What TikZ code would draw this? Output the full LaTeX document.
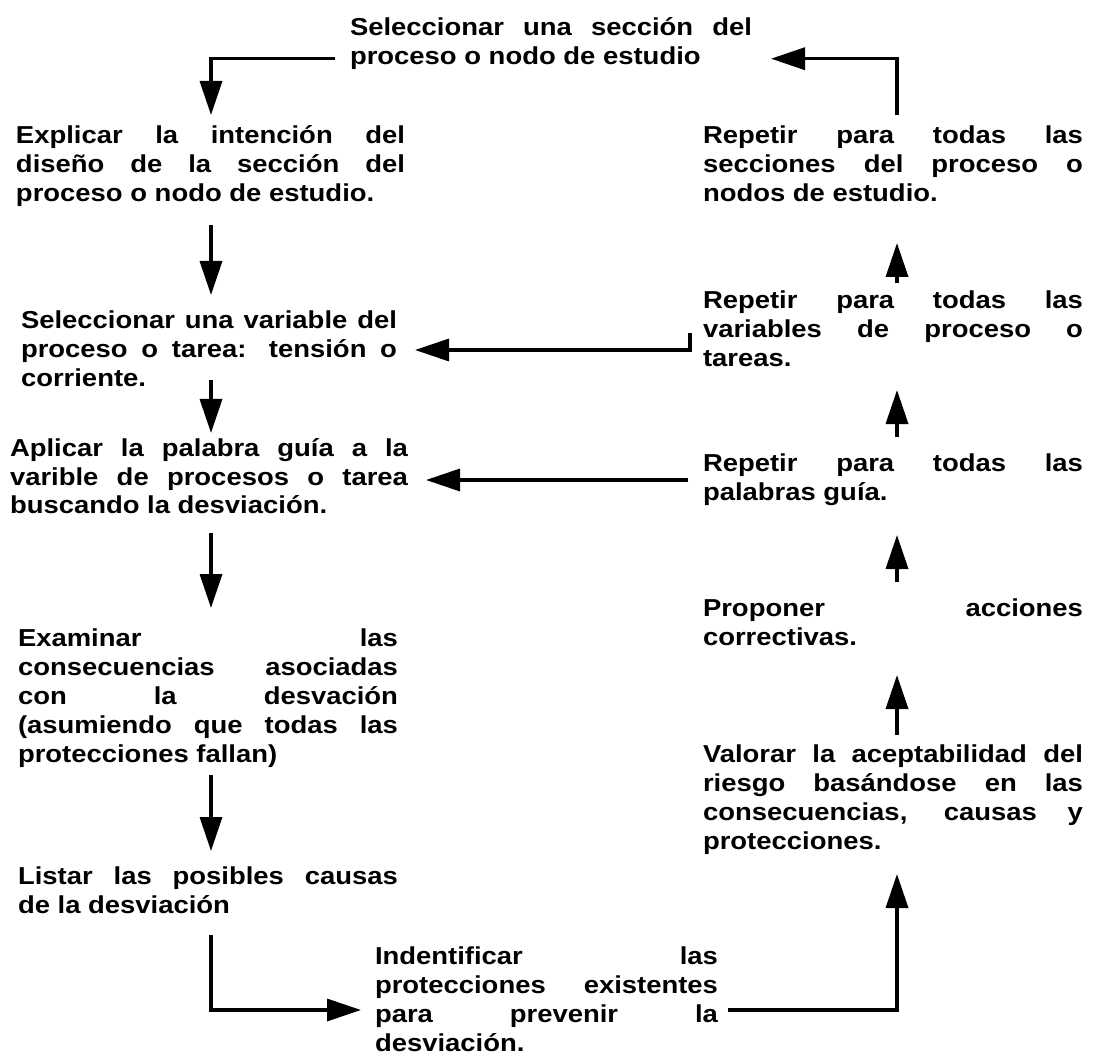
\documentclass[tikz,border=0pt]{standalone}
\usepackage{fontspec}
\newfontfamily\diagfont{Liberation Sans Bold}[FakeStretch=1.12]
\usetikzlibrary{arrows.meta}
% a justified (full width) line and a plain last line, both with the font's own spaces
\newcommand\jl[1]{\noindent\hbox to\hsize{\spaceskip=0pt\xspaceskip=0pt\strut#1}}
\newcommand\lastln[1]{\noindent{\spaceskip=0pt\xspaceskip=0pt\strut#1}}
\begin{document}
\begin{tikzpicture}[x=1pt,y=-1pt,
  blk/.style={anchor=north west, inner sep=0pt, outer sep=0pt, align=left,
              font=\fontsize{24.5}{29}\diagfont},
  arr/.style={line width=3.5pt, line join=miter,
              -{Triangle[length=34pt,width=22pt]}}]
\fill[white] (0,0) rectangle (1095,1064);
\useasboundingbox (0,0) rectangle (1095,1064);

\coordinate (colL) at (211,0);
\coordinate (colR) at (897,0);

% steps, left column
\node[blk, text width=402pt] (t) at (350,15.1)
  {\jl{Seleccionar una sección del}\\\lastln{proceso o nodo de estudio}};
\node[blk, text width=389pt] (e) at (16,123.7)
  {\jl{Explicar la intención del}\\\jl{diseño de la sección del}\\\lastln{proceso o nodo de estudio.}};
\node[blk, text width=376pt] (s) at (21,308.7)
  {\jl{Seleccionar una variable del}\\\jl{proceso o tarea: tensión o}\\\lastln{corriente.}};
\node[blk, text width=398pt] (a) at (10,435.7)
  {\jl{Aplicar la palabra guía a la}\\\jl{varible de procesos o tarea}\\\lastln{buscando la desviación.}};
\node[blk, text width=380pt] (x) at (18,625.7)
  {\jl{Examinar las}\\\jl{consecuencias asociadas}\\\jl{con la desvación}\\\jl{(asumiendo que todas las}\\\lastln{protecciones fallan)}};
\node[blk, text width=380pt] (l) at (18,863.7)
  {\jl{Listar las posibles causas}\\\lastln{de la desviación}};
\node[blk, text width=343pt] (i) at (375,943.7)
  {\jl{Indentificar las}\\\jl{protecciones existentes}\\\jl{para prevenir la}\\\lastln{desviación.}};

% steps, right column
\node[blk, text width=380pt] (r1) at (703,123.7)
  {\jl{Repetir para todas las}\\\jl{secciones del proceso o}\\\lastln{nodos de estudio.}};
\node[blk, text width=380pt] (r2) at (703,288.7)
  {\jl{Repetir para todas las}\\\jl{variables de proceso o}\\\lastln{tareas.}};
\node[blk, text width=380pt] (r3) at (703,450.7)
  {\jl{Repetir para todas las}\\\lastln{palabras guía.}};
\node[blk, text width=380pt] (p) at (703,595.7)
  {\jl{Proponer acciones}\\\lastln{correctivas.}};
\node[blk, text width=380pt] (v) at (703,741.7)
  {\jl{Valorar la aceptabilidad del}\\\jl{riesgo basándose en las}\\\jl{consecuencias, causas y}\\\lastln{protecciones.}};

% flow down the left column
\draw[arr, shorten >=8.7pt] ([xshift=-15pt,yshift=-14.6pt]t.west) -| (e.north -| colL);
\draw[arr, shorten <=14.3pt, shorten >=13.7pt] (e.south -| colL) -- (s.north -| colL);
\draw[arr, shorten <=-15.7pt, shorten >=2.7pt] (s.south -| colL) -- (a.north -| colL);
\draw[arr, shorten <=10.3pt, shorten >=17.7pt] (a.south -| colL) -- (x.north -| colL);
\draw[arr, shorten <=4.3pt, shorten >=12.7pt] (x.south -| colL) -- (l.north -| colL);
\draw[arr, shorten <=13.3pt, shorten >=14pt] (l.south -| colL) |- ([yshift=-8.3pt]i.west);

% flow up the right column
\draw[arr, shorten <=10pt, shorten >=16.3pt] ([yshift=-8.3pt]i.east) -| (v.south -| colR);
\draw[arr, shorten <=6.7pt, shorten >=21.3pt] (v.north -| colR) -- (p.south -| colR);
\draw[arr, shorten <=13.7pt, shorten >=26.3pt] (p.north -| colR) -- (r3.south -| colR);
\draw[arr, shorten <=13.7pt, shorten >=14.3pt] (r3.north -| colR) -- (r2.south -| colR);
\draw[arr, shorten <=5.7pt, shorten >=32.3pt] (r2.north -| colR) -- (r1.south -| colR);
\draw[arr, shorten <=8.7pt, shorten >=19pt] (r1.north -| colR) |- ([yshift=-14.6pt]t.east);

% loops back to the left column
\draw[arr, shorten >=18pt] ([xshift=-13pt,yshift=-0.8pt]r2.west) |- ([yshift=2.2pt]s.east);
\draw[arr, shorten >=18pt] ([xshift=-15pt,yshift=-0.3pt]r3.west) -- ([yshift=-0.3pt]r3.west -| a.east);
\end{tikzpicture}
\end{document}
